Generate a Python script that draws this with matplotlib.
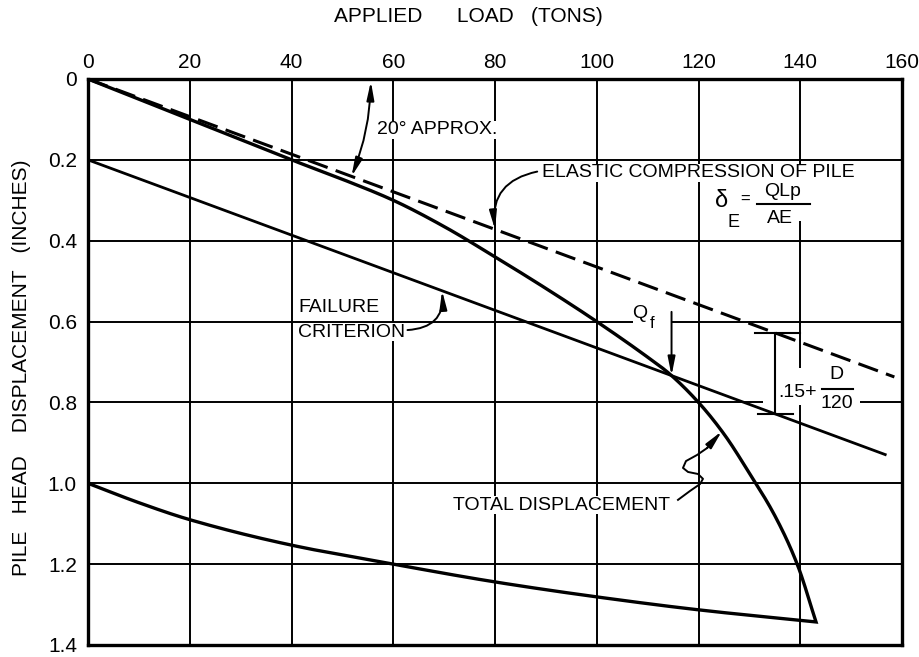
import numpy as np
import matplotlib
matplotlib.use("Agg")
import matplotlib.pyplot as plt
from matplotlib.patches import Rectangle

plt.rcParams['font.family'] = ['Liberation Sans', 'DejaVu Sans']

# ---- axis ticks -------------------------------------------------------
load_ticks = [0, 20, 40, 60, 80, 100, 120, 140, 160]
disp_ticks = [0, 0.2, 0.4, 0.6, 0.8, 1.0, 1.2, 1.4]
disp_tick_labels = ["0", "0.2", "0.4", "0.6", "0.8", "1.0", "1.2", "1.4"]

# ---- elastic compression of pile: delta_E = Q*Lp/(A*E) ------------------
elastic_load = [0, 158.5]
elastic_disp = [0.0, 0.737]

# ---- failure criterion: elastic line offset by 0.15 + D/120 --------------
failure_load = [0, 156.7]
failure_disp = [0.20, 0.929]

# ---- load test: loading branch ------------------------------------------
loading_load = [0, 10, 20, 30, 40, 50, 60, 70, 80, 90, 100, 110, 114,
                120, 125, 130, 135, 139.4, 143.1]
loading_disp = [0, 0.05, 0.10, 0.15, 0.20, 0.248, 0.30, 0.365, 0.44, 0.518,
                0.60, 0.688, 0.726, 0.800, 0.878, 0.975, 1.08, 1.20, 1.343]

# ---- load test: unloading (rebound) branch -------------------------------
unloading_load = [143.1, 120, 100, 80, 60, 40, 20, 10, 0]
unloading_disp = [1.343, 1.313, 1.281, 1.244, 1.20, 1.153, 1.09, 1.048, 1.0]

INK = 'black'


def pchip(xs, ys, xq):
    """Shape-preserving piecewise cubic through the given points."""
    x = np.asarray(xs, float)
    y = np.asarray(ys, float)
    order = np.argsort(x)
    x, y = x[order], y[order]
    h = np.diff(x)
    d = np.diff(y) / h
    m = np.zeros_like(x)
    m[0], m[-1] = d[0], d[-1]
    for k in range(1, len(x) - 1):
        if d[k - 1] * d[k] > 0:
            w1 = 2 * h[k] + h[k - 1]
            w2 = h[k] + 2 * h[k - 1]
            m[k] = (w1 + w2) / (w1 / d[k - 1] + w2 / d[k])
    xq = np.atleast_1d(np.asarray(xq, float))
    i = np.clip(np.searchsorted(x, xq) - 1, 0, len(x) - 2)
    t = (xq - x[i]) / h[i]
    h00 = 2 * t**3 - 3 * t**2 + 1
    h10 = t**3 - 2 * t**2 + t
    h01 = -2 * t**3 + 3 * t**2
    h11 = t**3 - t**2
    return h00 * y[i] + h10 * h[i] * m[i] + h01 * y[i + 1] + h11 * h[i] * m[i + 1]


def elastic_at(q):
    return np.interp(q, elastic_load, elastic_disp)


def failure_at(q):
    return np.interp(q, failure_load, failure_disp)


def total_at(q):
    return pchip(loading_load, loading_disp, q)


fig = plt.figure(figsize=(9.19, 6.57), dpi=100)
ax = fig.add_axes([88 / 919, 12 / 657, 814 / 919, 566 / 657])
ax.set_xlim(0, 160)
ax.set_ylim(1.4, 0)

ax.xaxis.tick_top()
ax.set_xticks(load_ticks)
ax.set_xticklabels([str(v) for v in load_ticks])
ax.set_yticks(disp_ticks)
ax.set_yticklabels(disp_tick_labels)
ax.tick_params(axis='both', length=0, labelsize=15, colors=INK)
ax.tick_params(axis='x', pad=5)
ax.tick_params(axis='y', pad=8)
ax.grid(True, color=INK, linewidth=1.4)
ax.set_axisbelow(True)
for sp in ax.spines.values():
    sp.set_linewidth(2.4)

# ---- curves -------------------------------------------------------------
ax.plot(elastic_load, elastic_disp, color=INK, lw=2.2, dashes=(6.8, 2.8),
        zorder=4)
ax.plot(failure_load, failure_disp, color=INK, lw=2.0, zorder=4)

q_up = np.linspace(loading_load[0], loading_load[-1], 600)
q_down = np.linspace(unloading_load[0], unloading_load[-1], 600)
curve_x = np.concatenate([q_up, q_down])
curve_y = np.concatenate([total_at(q_up),
                          pchip(unloading_load, unloading_disp, q_down)])
ax.plot(curve_x, curve_y, color=INK, lw=2.4, zorder=4, solid_joinstyle='miter')


def note(x, y, s, size=14, **kw):
    kw.setdefault('ha', 'left')
    kw.setdefault('va', 'center')
    ax.text(x, y, s, fontsize=size, color=INK, zorder=3,
            bbox=dict(facecolor='white', edgecolor='none', pad=0.5), **kw)


def blank(x0, x1, y0, y1):
    ax.add_patch(Rectangle((x0, y0), x1 - x0, y1 - y0, facecolor='white',
                           edgecolor='none', zorder=2))


def arrow_style(kind):
    return f'{kind},head_length=1.1,head_width=0.22'


# ---- 20 degree angle between elastic line and load axis ------------------
note(56.8, 0.126, "20° APPROX.")
arc_end = 51.8
ax.annotate('', xy=(arc_end, elastic_at(arc_end)), xytext=(55.6, 0.006),
            arrowprops=dict(arrowstyle=arrow_style('<|-|>'), color=INK, lw=1.4,
                            connectionstyle='arc3,rad=-0.09',
                            shrinkA=0, shrinkB=0), zorder=5)

# ---- elastic compression label and formula --------------------------------
note(89.2, 0.2325, "ELASTIC COMPRESSION OF PILE")
ax.annotate('', xy=(80, elastic_at(80)), xytext=(88.3, 0.229),
            arrowprops=dict(arrowstyle=arrow_style('-|>'), color=INK, lw=1.4,
                            connectionstyle='arc3,rad=0.45',
                            shrinkA=0, shrinkB=0), zorder=5)

blank(123.2, 142.9, 0.255, 0.350)
ax.text(124.6, 0.303, "δ", fontsize=17, ha='center', va='center', zorder=3)
ax.text(126.8, 0.356, "E", fontsize=13, ha='center', va='center', zorder=3)
ax.text(129.1, 0.297, "=", fontsize=12, ha='center', va='center', zorder=3)
ax.text(136.6, 0.279, "QLp", fontsize=14, ha='center', va='center', zorder=3)
ax.plot([131.5, 141.9], [0.309, 0.309], color=INK, lw=1.5, zorder=3)
ax.text(136.0, 0.344, "AE", fontsize=14, ha='center', va='center', zorder=3)

# ---- failure criterion label ----------------------------------------------
note(41.3, 0.566, "FAILURE")
note(41.3, 0.626, "CRITERION")
ax.annotate('', xy=(69.6, failure_at(69.6)), xytext=(62.8, 0.621),
            arrowprops=dict(arrowstyle=arrow_style('-|>'), color=INK, lw=1.4,
                            connectionstyle='arc3,rad=0.5',
                            shrinkA=0, shrinkB=0), zorder=5)

# ---- failure load Qf: total curve meets failure criterion ------------------
q = np.linspace(100, 125, 2501)
qf = q[np.argmin(np.abs(total_at(q) - failure_at(q)))]
blank(107.1, 114.8, 0.547, 0.621)
ax.text(108.5, 0.579, "Q", fontsize=14, ha='center', va='center', zorder=3)
ax.text(110.9, 0.606, "f", fontsize=12, ha='center', va='center', zorder=3)
ax.annotate('', xy=(qf, float(total_at(qf)[0])), xytext=(qf, 0.576),
            arrowprops=dict(arrowstyle=arrow_style('-|>'), color=INK, lw=1.4,
                            shrinkA=0, shrinkB=0), zorder=5)

# ---- offset between elastic line and failure criterion ---------------------
xb = 135.0
top, bot = float(elastic_at(xb)), float(failure_at(xb))
ax.plot([131.1, 140.0], [top, top], color=INK, lw=1.5, zorder=5)
ax.plot([131.7, 138.6], [bot, bot], color=INK, lw=1.5, zorder=5)
ax.plot([xb, xb], [top, bot], color=INK, lw=1.5, zorder=5)
blank(132.7, 151.8, 0.715, 0.806)
ax.text(135.7, 0.776, ".15+", fontsize=14, ha='left', va='center', zorder=3)
ax.text(147.2, 0.730, "D", fontsize=14, ha='center', va='center', zorder=3)
ax.plot([144.3, 150.4], [0.767, 0.767], color=INK, lw=1.5, zorder=3)
ax.text(147.2, 0.803, "120", fontsize=14, ha='center', va='center', zorder=3)

# ---- total displacement label with wavy leader -----------------------------
note(114.4, 1.054, "TOTAL DISPLACEMENT", ha='right')
wave_x = [115.97, 118.33, 120.29, 120.88, 119.90, 117.94, 116.95, 117.54,
          119.71, 121.67]
wave_y = [1.041, 1.019, 1.002, 0.989, 0.977, 0.972, 0.962, 0.945, 0.930,
          0.913]
ax.plot(wave_x, wave_y, color=INK, lw=1.4, zorder=5, solid_joinstyle='round')
tip = 124.6
ax.annotate('', xy=(tip, float(total_at(tip)[0])),
            xytext=(wave_x[-1], wave_y[-1]),
            arrowprops=dict(arrowstyle=arrow_style('-|>'), color=INK, lw=1.4,
                            shrinkA=0, shrinkB=0), zorder=5)

# ---- axis titles ---------------------------------------------------------
fig.text(468 / 919, 1 - 17 / 657, "APPLIED      LOAD   (TONS)",
         ha='center', va='center', fontsize=15, color=INK)
fig.text(22 / 919, 1 - 368 / 657, "PILE   HEAD    DISPLACEMENT   (INCHES)",
         rotation=90, ha='center', va='center', fontsize=15, color=INK)

fig.savefig("out.png", dpi=100, facecolor='white')
